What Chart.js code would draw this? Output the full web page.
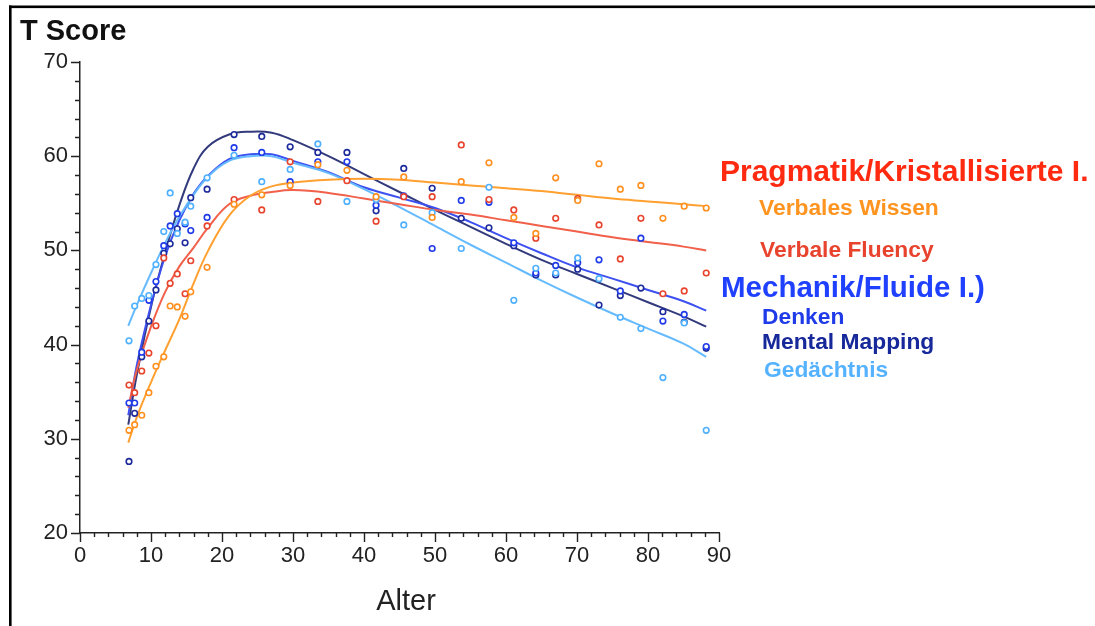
<!DOCTYPE html>
<html><head><meta charset="utf-8">
<script src="https://cdn.jsdelivr.net/npm/chart.js@4/dist/chart.umd.min.js"></script>
<style>html,body{margin:0;padding:0;background:#fff;}#wrap{position:relative;width:1095px;height:626px;}</style>
</head><body><div id="wrap"><canvas id="c" width="1095" height="626"></canvas></div>
<script>
// ---- data ----
const ages = [6.9, 7.7, 8.7, 9.7, 10.7, 11.8, 12.7, 13.7, 14.8, 15.6, 17.9, 21.7, 25.6, 29.6, 33.5, 37.6, 41.7, 45.6, 49.6, 53.7, 57.6, 61.1, 64.2, 67.0, 70.1, 73.1, 76.1, 79.0, 82.1, 85.1, 88.2];
const verbalesWissen = [30.9, 31.5, 32.5, 34.9, 37.7, 38.7, 44.1, 44.0, 43.0, 45.6, 48.2, 54.9, 55.9, 56.9, 59.1, 58.5, 55.7, 57.8, 53.5, 57.3, 59.3, 53.5, 51.8, 57.7, 55.3, 59.2, 56.5, 56.9, 53.4, 54.7, 54.5];
const verbaleFluency = [35.7, 34.9, 37.2, 39.1, 42.0, 49.2, 46.5, 47.5, 45.4, 48.9, 52.6, 55.4, 54.3, 59.4, 55.2, 57.4, 53.1, 55.7, 55.7, 61.2, 55.4, 54.3, 51.3, 53.4, 55.5, 52.7, 49.1, 53.4, 45.4, 45.7, 47.6];
const denken = [33.8, 33.8, 39.2, 44.7, 46.7, 50.5, 52.6, 53.9, 52.8, 52.1, 53.5, 60.9, 60.4, 57.3, 59.4, 59.4, 54.8, 55.8, 50.2, 55.3, 55.1, 50.8, 47.6, 48.4, 48.7, 49.0, 45.7, 51.3, 42.5, 43.2, 39.8];
const mentalMapping = [27.6, 32.7, 38.7, 42.5, 45.8, 49.7, 50.7, 52.3, 50.8, 55.6, 56.5, 62.3, 62.1, 61.0, 60.4, 60.4, 54.2, 58.7, 56.6, 53.4, 52.4, 50.5, 47.4, 47.4, 48.0, 44.2, 45.2, 46.0, 43.5, 42.4, 39.6];
const gedaechtnis = [40.4, 44.1, 44.9, 45.2, 48.5, 52.0, 56.1, 51.8, 53.0, 54.7, 57.7, 60.1, 57.3, 58.6, 61.3, 55.2, 55.4, 52.7, 54.0, 50.2, 56.7, 44.7, 48.1, 47.6, 49.2, 47.0, 42.9, 41.7, 36.5, 42.3, 30.9];

const curveAges = [6.8, 8, 10, 12, 14, 16, 18, 21, 24, 27, 30, 35, 40, 45, 50, 55, 60, 65, 70, 75, 80, 85, 88.2];
const fitVerbalesWissen = [29.6, 32.3, 36.0, 39.4, 42.7, 46.5, 49.9, 53.7, 55.8, 56.8, 57.2, 57.5, 57.6, 57.5, 57.2, 56.9, 56.6, 56.3, 55.9, 55.5, 55.2, 54.9, 54.7];
const fitVerbaleFluency = [33.3, 37.3, 41.9, 45.6, 48.3, 50.3, 52.4, 54.9, 55.8, 56.2, 56.4, 56.1, 55.5, 54.9, 54.3, 53.8, 53.2, 52.6, 52.0, 51.4, 50.9, 50.4, 50.0];
const fitDenken = [32.5, 37.8, 44.2, 49.4, 53.2, 56.0, 57.9, 59.7, 60.2, 60.2, 59.5, 58.3, 56.7, 55.6, 54.5, 53.0, 51.3, 49.7, 48.2, 47.0, 45.8, 44.6, 43.6];
const fitMentalMapping = [31.5, 36.8, 44.0, 49.8, 54.8, 58.7, 61.0, 62.3, 62.6, 62.5, 61.7, 60.0, 58.1, 56.2, 54.3, 52.5, 50.7, 49.0, 47.5, 46.0, 44.5, 43.0, 41.9];
const fitGedaechtnis = [42.0, 44.2, 47.6, 50.8, 53.6, 55.9, 57.8, 59.5, 60.0, 60.0, 59.3, 58.2, 56.5, 54.6, 52.6, 50.6, 48.7, 46.8, 45.0, 43.3, 41.7, 40.1, 38.7];

const xTickValues = [0, 10, 20, 30, 40, 50, 60, 70, 80, 90];
const yTickValues = [20, 30, 40, 50, 60, 70];

const legendLabels = ['Pragmatik/Kristallisierte I.', 'Verbales Wissen', 'Verbale Fluency', 'Mechanik/Fluide I.)', 'Denken', 'Mental Mapping', 'Gedächtnis'];

// ---- styles ----
const C = {
  wissen: '#ff9020', fluency: '#e8432d', denken: '#1f3ae8', mapping: '#1c2a9c', gedaechtnis: '#4fb0ff'
};
const CL = {
  wissen: '#ffa030', fluency: '#f0604a', denken: '#3d50f0', mapping: '#323a7c', gedaechtnis: '#66bbff'
};
const pts = (xs, ys) => xs.map((x, i) => ({x: x, y: ys[i]}));
function curve(data, color) {
  return {type: 'line', data: pts(curveAges, data), borderColor: color, borderWidth: 2, pointRadius: 0,
    fill: false, tension: 0.4, order: 2};
}
function scatter(data, color) {
  return {type: 'scatter', data: pts(ages, data), pointStyle: 'circle', pointRadius: 2.8, pointBorderWidth: 1.6,
    borderColor: color, backgroundColor: '#ffffff', pointBackgroundColor: '#ffffff', pointBorderColor: color, order: 1};
}

Chart.defaults.font.family = "'Liberation Sans', Arial, sans-serif";

const deco = {
  id: 'deco',
  afterDraw(chart) {
    const ctx = chart.ctx, xs = chart.scales.x, ys = chart.scales.y, a = chart.chartArea;
    ctx.save();
    // frame
    ctx.fillStyle = '#000';
    ctx.fillRect(9, 5.5, 1086, 2.6);
    ctx.fillRect(9, 5.5, 2.6, 621);
    // ticks
    ctx.strokeStyle = '#222';
    ctx.lineWidth = 1.4;
    ctx.beginPath();
    for (let v = 20; v <= 70; v += 2) {
      const y = Math.round(ys.getPixelForValue(v)) + 0.5;
      const len = v % 10 === 0 ? 9 : 5;
      ctx.moveTo(a.left - len, y); ctx.lineTo(a.left, y);
    }
    for (let v = 0; v <= 90; v += 2) {
      const x = Math.round(xs.getPixelForValue(v)) + 0.5;
      const len = v % 10 === 0 ? 9 : 4;
      ctx.moveTo(x, a.bottom); ctx.lineTo(x, a.bottom + len);
    }
    ctx.stroke();
    // texts
    ctx.textBaseline = 'alphabetic';
    ctx.textAlign = 'center';
    ctx.fillStyle = '#222';
    ctx.font = "29px 'Liberation Sans', Arial, sans-serif";
    ctx.fillText('Alter', 406, 610);
    ctx.textAlign = 'left';
    ctx.fillStyle = '#111';
    ctx.font = "bold 29px 'Liberation Sans', Arial, sans-serif";
    ctx.fillText('T Score', 20, 40);
    const items = [
      [legendLabels[0], '#ff2a10', 30, 720, 181],
      [legendLabels[1], '#ff9520', 22.8, 759, 215],
      [legendLabels[2], '#e8432d', 22.8, 760, 257],
      [legendLabels[3], '#2040ff', 29.5, 721, 297],
      [legendLabels[4], '#1f3ae8', 22.8, 762, 324],
      [legendLabels[5], '#16289a', 22.8, 762, 349],
      [legendLabels[6], '#55b2ff', 22.8, 764, 377]
    ];
    items.forEach(([t, col, sz, x, y]) => {
      ctx.fillStyle = col;
      ctx.font = "bold " + sz + "px 'Liberation Sans', Arial, sans-serif";
      ctx.fillText(t, x, y);
    });
    ctx.restore();
  }
};

new Chart(document.getElementById('c'), {
  type: 'scatter',
  data: {
    datasets: [
      curve(fitVerbalesWissen, CL.wissen),
      curve(fitVerbaleFluency, CL.fluency),
      curve(fitGedaechtnis, CL.gedaechtnis),
      curve(fitDenken, CL.denken),
      curve(fitMentalMapping, CL.mapping),
      scatter(verbalesWissen, C.wissen),
      scatter(verbaleFluency, C.fluency),
      scatter(gedaechtnis, C.gedaechtnis),
      scatter(denken, C.denken),
      scatter(mentalMapping, C.mapping)
    ]
  },
  options: {
    responsive: false, animation: false, devicePixelRatio: 1,
    layout: {autoPadding: false, padding: {left: 0, top: 62, right: 376, bottom: 0}},
    plugins: {legend: {display: false}, tooltip: {enabled: false}},
    scales: {
      x: {
        type: 'linear', min: 0, max: 90,
        afterFit(s) { s.height = 93; },
        afterBuildTicks(s) { s.ticks = xTickValues.map(v => ({value: v})); },
        ticks: {color: '#222', font: {size: 22}, padding: 10, maxRotation: 0, autoSkip: false},
        grid: {display: true, drawOnChartArea: false, drawTicks: false},
        border: {display: true, color: '#222', width: 1.5}
      },
      y: {
        type: 'linear', min: 20, max: 70,
        afterFit(s) { s.width = 80; },
        afterBuildTicks(s) { s.ticks = yTickValues.map(v => ({value: v})); },
        ticks: {color: '#222', font: {size: 22}, padding: 12, autoSkip: false},
        grid: {display: true, drawOnChartArea: false, drawTicks: false},
        border: {display: true, color: '#222', width: 1.5}
      }
    }
  },
  plugins: [deco]
});
</script></body></html>
